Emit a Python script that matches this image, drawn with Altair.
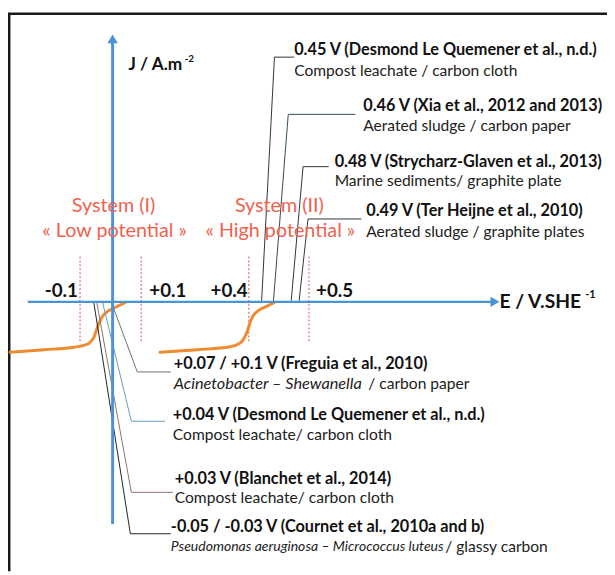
import altair as alt
import pandas as pd

FONT = "Lato"

# ---------------- data (schematic coordinates, page pixels) ----------------
frame_x = [8, 9]
frame_y = [10, 10]
frame_x2 = [615, 9]
frame_y2 = [10, 575]

axis_x = [114, 28]
axis_y = [38, 302]
axis_x2 = [114, 499]
axis_y2 = [527, 302]

arrow_x = [114, 501.5]
arrow_y = [35.5, 302]
arrow_shape = ["triangle-up", "triangle-right"]

dotted_x = [81, 143, 252, 313]
dotted_y_top = 256
dotted_y_bot = 344

curve1_x = [10, 45, 75, 85, 90, 95, 100, 105, 110, 118, 127]
curve1_y = [353, 350.5, 348, 346, 344, 338, 324, 315, 311, 307, 302.5]
curve2_x = [162, 200, 233, 241, 246, 250, 254, 258, 263, 270, 278]
curve2_y = [353, 350.5, 347.5, 345, 341, 333, 321, 314, 310, 306.5, 302.5]

leaders = {
    "L045": ([265, 278, 298], [301, 54, 54], "#333333"),
    "L046": ([277, 292, 360], [301, 112, 112], "#2f4a55"),
    "L048": ([295, 307, 333], [301, 165, 165], "#333333"),
    "L049": ([303, 312, 366], [301, 218, 218], "#333333"),
    "Lfreg": ([113, 139, 173], [303, 373, 373], "#707070"),
    "Ldesm": ([104, 133, 167], [303, 423, 423], "#6a9ab8"),
    "Lblan": ([98, 133, 175], [303, 495, 495], "#8a7272"),
    "Lcour": ([95, 132, 173], [303, 537, 537], "#222222"),
}

bold_x = [298, 368, 339, 371, 176, 175, 177, 173]
bold_y = [47, 104, 160, 210, 365, 417, 482, 530]
bold_t = [
    "0.45 V (Desmond Le Quemener et al., n.d.)",
    "0.46 V (Xia et al., 2012 and 2013)",
    "0.48 V (Strycharz-Glaven et al., 2013)",
    "0.49 V (Ter Heijne et al., 2010)",
    "+0.07 / +0.1 V (Freguia et al., 2010)",
    "+0.04 V (Desmond Le Quemener et al., n.d.)",
    "+0.03 V (Blanchet et al., 2014)",
    "-0.05 / -0.03 V (Cournet et al., 2010a and b)",
]

plain_x = [298, 368, 339, 371, 175, 177, 373, 451]
plain_y = [68, 124, 180, 231, 437, 501, 385, 550]
plain_t = [
    "Compost leachate / carbon cloth",
    "Aerated sludge / carbon paper",
    "Marine sediments/ graphite plate",
    "Aerated sludge / graphite plates",
    "Compost leachate/ carbon cloth",
    "Compost leachate/ carbon cloth",
    "/ carbon paper",
    "/ glassy carbon",
]

italic_x = [176, 173]
italic_y = [385, 550]
italic_t = [
    "Acinetobacter \u2013 Shewanella",
    "Pseudomonas aeruginosa \u2013 Micrococcus luteus",
]
italic_size = [16.5, 14.2]

red_x = [115, 116, 283, 284]
red_y = [205, 230, 205, 230]
red_t = ["System (I)", "\u00ab Low potential \u00bb", "System (II)", "\u00ab High potential \u00bb"]

tick_x = [62, 170, 232, 339]
tick_y = [291, 291, 291, 291]
tick_t = ["-0.1", "+0.1", "+0.4", "+0.5"]

axlab_x = [506, 130]
axlab_y = [302, 62]
axlab_t = ["E / V.SHE", "J / A.m"]
axlab_size = [19.5, 17.5]

sup_x = [593, 187]
sup_y = [295, 56]
sup_t = ["-1", "-2"]
sup_size = [11, 10]

# ---------------- chart ----------------
xs = alt.Scale(domain=[8, 615], nice=False, zero=False)
ys = alt.Scale(domain=[8, 575], nice=False, zero=False, reverse=True)


def X(f="x"):
    return alt.X(f"{f}:Q", scale=xs, axis=None)


def Y(f="y"):
    return alt.Y(f"{f}:Q", scale=ys, axis=None)


frame_df = pd.DataFrame({"x": frame_x, "y": frame_y, "x2": frame_x2, "y2": frame_y2, "w": [2.5, 3]})
frame = alt.Chart(frame_df).mark_rule(color="#1a1a1a").encode(
    x=X(), y=Y(), x2="x2:Q", y2="y2:Q", strokeWidth=alt.StrokeWidth("w:Q", scale=None)
)

axis_df = pd.DataFrame({"x": axis_x, "y": axis_y, "x2": axis_x2, "y2": axis_y2, "w": [3, 2.5]})
axes = alt.Chart(axis_df).mark_rule(color="#4a94d6").encode(
    x=X(), y=Y(), x2="x2:Q", y2="y2:Q", strokeWidth=alt.StrokeWidth("w:Q", scale=None)
)

arrow_df = pd.DataFrame({"x": arrow_x, "y": arrow_y, "s": arrow_shape})
arrows = alt.Chart(arrow_df).mark_point(filled=True, size=110, color="#4a94d6", opacity=1).encode(
    x=X(), y=Y(), shape=alt.Shape("s:N", scale=None)
)

dot_df = pd.DataFrame({"x": dotted_x, "y": [dotted_y_top] * 4, "y2": [dotted_y_bot] * 4})
dotted = alt.Chart(dot_df).mark_rule(color="#e0706a", strokeWidth=1.2, strokeDash=[2, 2]).encode(
    x=X(), y=Y(), y2="y2:Q"
)

crv_rows = []
for cid, (cx, cy) in enumerate([(curve1_x, curve1_y), (curve2_x, curve2_y)]):
    for i, (a, b) in enumerate(zip(cx, cy)):
        crv_rows.append({"id": cid, "i": i, "x": a, "y": b})
curves = alt.Chart(pd.DataFrame(crv_rows)).mark_line(
    color="#f08a2e", strokeWidth=3, interpolate="monotone", strokeCap="round"
).encode(x=X(), y=Y(), detail="id:N", order="i:Q")

ld_rows = []
for name, (lx, ly, col) in leaders.items():
    for i, (a, b) in enumerate(zip(lx, ly)):
        ld_rows.append({"id": name, "i": i, "x": a, "y": b, "c": col})
lead = alt.Chart(pd.DataFrame(ld_rows)).mark_line(strokeWidth=1).encode(
    x=X(), y=Y(), detail="id:N", order="i:Q", color=alt.Color("c:N", scale=None)
)


def texts(xv, yv, tv, **kw):
    df = pd.DataFrame({"x": xv, "y": yv, "t": tv})
    return alt.Chart(df).mark_text(font=FONT, baseline="middle", **kw).encode(x=X(), y=Y(), text="t:N")


bold = texts(bold_x, bold_y, bold_t, align="left", fontWeight="bold", fontSize=16.5, color="#111111")
plain = texts(plain_x, plain_y, plain_t, align="left", fontSize=15.8, color="#222222")
ital_df = pd.DataFrame({"x": italic_x, "y": italic_y, "t": italic_t, "s": italic_size})
italic = alt.Chart(ital_df).mark_text(
    font=FONT, baseline="middle", align="left", fontStyle="italic", color="#222222"
).encode(x=X(), y=Y(), text="t:N", size=alt.Size("s:Q", scale=None))
red = texts(red_x, red_y, red_t, align="center", fontSize=20, color="#f0624d")
ticks = texts(tick_x, tick_y, tick_t, align="center", fontWeight="bold", fontSize=19, color="#111111")

axl_df = pd.DataFrame({"x": axlab_x, "y": axlab_y, "t": axlab_t, "s": axlab_size})
axl = alt.Chart(axl_df).mark_text(font=FONT, baseline="middle", align="left", fontWeight="bold", color="#111111").encode(
    x=X(), y=Y(), text="t:N", size=alt.Size("s:Q", scale=None)
)
sup_df = pd.DataFrame({"x": sup_x, "y": sup_y, "t": sup_t, "s": sup_size})
sup = alt.Chart(sup_df).mark_text(font=FONT, baseline="middle", align="left", fontWeight="bold", color="#111111").encode(
    x=X(), y=Y(), text="t:N", size=alt.Size("s:Q", scale=None)
)

chart = alt.layer(
    frame, dotted, curves, lead, axes, arrows, red, ticks, bold, plain, italic, axl, sup
).properties(
    width=607, height=567, padding=0, autosize=alt.AutoSizeParams(type="none"), background="white"
).configure_view(stroke=None)

chart.save("out.html", embed_options={"renderer": "svg", "actions": False})
